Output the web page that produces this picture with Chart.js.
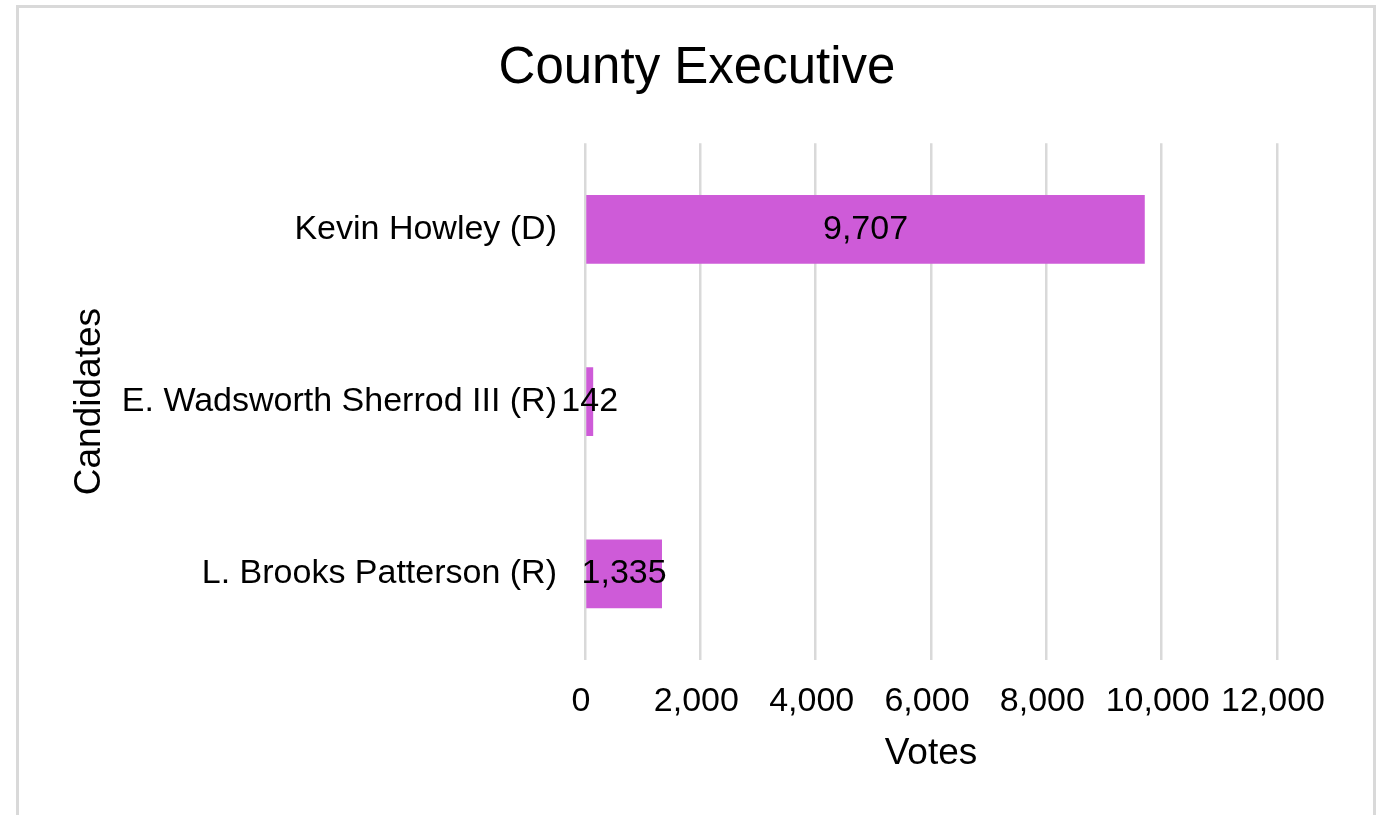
<!DOCTYPE html>
<html>
<head>
<meta charset="utf-8">
<script src="https://cdn.jsdelivr.net/npm/chart.js@4/dist/chart.umd.min.js"></script>
<style>
  html, body { margin: 0; padding: 0; background: #ffffff; }
  #wrap { position: relative; width: 1386px; height: 815px; overflow: hidden; }
  #frame { position: absolute; left: 16px; top: 5px; width: 1354px; height: 900px;
           border: 3px solid #d9d9d9; box-sizing: content-box; pointer-events: none; }
  #c { position: absolute; left: 0; top: 0; }
</style>
</head>
<body>
<div id="wrap">
  <div id="frame"></div>
  <canvas id="c" width="1386" height="815"></canvas>
</div>
<script>
const chartTitle = "County Executive";
const candidates = ["Kevin Howley (D)", "E. Wadsworth Sherrod III (R)", "L. Brooks Patterson (R)"];
const votes = [9707, 142, 1335];
const xAxisTitle = "Votes";
const yAxisTitle = "Candidates";
const xMin = 0, xMax = 12000, xStep = 2000;

const FONT = "'Liberation Sans', Arial, Helvetica, sans-serif";
const fmt = v => Number(v).toLocaleString('en-US');

const barLabels = {
  id: 'barLabels',
  afterDatasetsDraw(chart) {
    const ctx = chart.ctx;
    const meta = chart.getDatasetMeta(0);
    ctx.save();
    ctx.font = "34px " + FONT;
    ctx.fillStyle = "#000000";
    ctx.textAlign = "center";
    ctx.textBaseline = "middle";
    meta.data.forEach((bar, i) => {
      const cx = (bar.x + bar.base) / 2;
      ctx.fillText(fmt(chart.data.datasets[0].data[i]), cx, bar.y);
    });
    ctx.restore();
  }
};

new Chart(document.getElementById('c'), {
  type: 'bar',
  data: {
    labels: candidates,
    datasets: [{
      data: votes,
      backgroundColor: '#CE5BD8',
      borderWidth: 0,
      barPercentage: 0.4,
      categoryPercentage: 1.0
    }]
  },
  options: {
    indexAxis: 'y',
    responsive: false,
    animation: false,
    devicePixelRatio: 1,
    layout: { padding: { left: 117, right: 109, top: 0, bottom: 0 } },
    plugins: {
      legend: { display: false },
      tooltip: { enabled: false },
      title: {
        display: true,
        text: chartTitle,
        color: '#000000',
        font: { family: FONT, size: 51, weight: 'normal', lineHeight: 1.2 },
        padding: { top: 38, bottom: 44 }
      }
    },
    scales: {
      x: {
        type: 'linear',
        min: xMin, max: xMax,
        afterFit(scale) { scale.height = 155; },
        ticks: {
          stepSize: xStep,
          padding: 21,
          labelOffset: -4,
          color: '#000000',
          font: { family: FONT, size: 34, lineHeight: 1.2 },
          callback: v => fmt(v),
          maxRotation: 0
        },
        grid: { color: '#d9d9d9', lineWidth: 2.5, drawTicks: false },
        border: { display: false },
        title: {
          display: true,
          text: xAxisTitle,
          color: '#000000',
          font: { family: FONT, size: 37, lineHeight: 1.2 },
          padding: { top: 0, bottom: 39 }
        }
      },
      y: {
        afterFit(scale) { scale.width = 585 - 117; },
        ticks: {
          padding: 28,
          color: '#000000',
          font: { family: FONT, size: 34, lineHeight: 1.2 }
        },
        grid: { display: false, drawTicks: false },
        border: { display: false },
        title: {
          display: true,
          text: yAxisTitle,
          color: '#000000',
          font: { family: FONT, size: 37, lineHeight: 1.2 },
          padding: { top: -49, bottom: 0 }
        }
      }
    }
  },
  plugins: [barLabels]
});
</script>
</body>
</html>
